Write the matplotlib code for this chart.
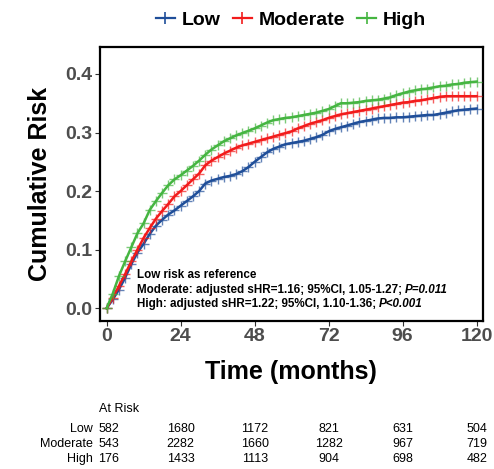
import matplotlib
matplotlib.use("Agg")
import matplotlib.pyplot as plt
from matplotlib.lines import Line2D

plt.rcParams['font.family'] = ['Liberation Sans', 'DejaVu Sans']

months = list(range(0, 121, 2))
low = [0.000, 0.015, 0.032, 0.052, 0.075, 0.095, 0.110, 0.127, 0.141, 0.151,
       0.160, 0.167, 0.175, 0.183, 0.191, 0.200, 0.213, 0.218, 0.221, 0.224,
       0.226, 0.229, 0.234, 0.241, 0.250, 0.258, 0.266, 0.272, 0.276, 0.280,
       0.282, 0.284, 0.286, 0.289, 0.292, 0.296, 0.302, 0.306, 0.309, 0.312,
       0.315, 0.318, 0.320, 0.322, 0.324, 0.325, 0.325, 0.326, 0.326, 0.327,
       0.328, 0.329, 0.330, 0.330, 0.332, 0.334, 0.336, 0.338, 0.339, 0.340, 0.341]
moderate = [0.000, 0.018, 0.038, 0.058, 0.080, 0.100, 0.120, 0.137, 0.153, 0.166,
            0.178, 0.191, 0.200, 0.210, 0.220, 0.230, 0.244, 0.252, 0.258, 0.264,
            0.269, 0.274, 0.278, 0.281, 0.284, 0.287, 0.290, 0.293, 0.296, 0.299,
            0.302, 0.307, 0.311, 0.315, 0.318, 0.321, 0.325, 0.328, 0.331, 0.333,
            0.335, 0.337, 0.339, 0.341, 0.343, 0.345, 0.347, 0.349, 0.351, 0.352,
            0.354, 0.355, 0.357, 0.359, 0.361, 0.362, 0.362, 0.362, 0.362, 0.362, 0.362]
high = [0.000, 0.025, 0.055, 0.080, 0.104, 0.128, 0.145, 0.168, 0.183, 0.197,
        0.210, 0.220, 0.227, 0.235, 0.243, 0.252, 0.262, 0.271, 0.278, 0.285,
        0.290, 0.295, 0.299, 0.303, 0.307, 0.312, 0.317, 0.321, 0.323, 0.325,
        0.326, 0.328, 0.330, 0.332, 0.334, 0.337, 0.340, 0.345, 0.350, 0.350,
        0.351, 0.352, 0.354, 0.355, 0.356, 0.358, 0.360, 0.364, 0.367, 0.370,
        0.372, 0.374, 0.375, 0.377, 0.379, 0.380, 0.382, 0.383, 0.385, 0.386, 0.387]

groups = ["Low", "Moderate", "High"]
colors = ["#1F4E99", "#F21B1B", "#45B541"]
series = [low, moderate, high]

x_ticks = [0, 24, 48, 72, 96, 120]
y_ticks = [0.0, 0.1, 0.2, 0.3, 0.4]
at_risk = {
    "Low": [582, 1680, 1172, 821, 631, 504],
    "Moderate": [543, 2282, 1660, 1282, 967, 719],
    "High": [176, 1433, 1113, 904, 698, 482],
}
annot_lines = [
    ("Low risk as reference", ""),
    ("Moderate: adjusted sHR=1.16; 95%CI, 1.05-1.27; ", "P=0.011"),
    ("High: adjusted sHR=1.22; 95%CI, 1.10-1.36; ", "P<0.001"),
]

W, H = 494, 469
fig = plt.figure(figsize=(W / 100, H / 100), dpi=100)
ax = fig.add_axes([99.5 / W, 1 - 321 / H, (482.5 - 99.5) / W, (321 - 47) / H])

for name, col, vals in zip(groups, colors, series):
    ax.plot(months, vals, color=col, lw=1.8, zorder=3)
    ax.plot(months, vals, ls="none", marker="+", ms=7, mew=1.0, color=col,
            alpha=0.7, zorder=3)

ax.set_xlim(-2.3, 121.9)
ax.set_ylim(-0.0217, 0.446)
ax.set_xticks(x_ticks)
ax.set_yticks(y_ticks)
ax.set_yticklabels([f"{v:.1f}" for v in y_ticks])
ax.tick_params(axis="both", direction="out", length=3.5, width=0.8, color="#333333",
               labelsize=14, labelcolor="#4D4D4D", pad=1.5)
for lab in ax.get_xticklabels() + ax.get_yticklabels():
    lab.set_fontweight("bold")
for sp in ax.spines.values():
    sp.set_linewidth(1.6)
    sp.set_color("black")

ax.set_xlabel("Time (months)", fontsize=18, fontweight="bold", labelpad=11)
ax.set_ylabel("Cumulative Risk", fontsize=18, fontweight="bold", labelpad=10)

handles = [Line2D([0], [0], color=c, lw=1.6, marker="+", ms=8, mew=1.2) for c in colors]
leg = fig.legend(handles, groups, loc="center", bbox_to_anchor=(291 / W, 1 - 20 / H),
                 ncol=3, frameon=False, handlelength=1.0, handletextpad=0.35,
                 columnspacing=0.6, prop={"weight": "bold", "size": 14})

# annotation lines with italic P value
fig.canvas.draw()
renderer = fig.canvas.get_renderer()
base_y = [278.3, 292.7, 307.0]
x0 = 136.7
for (main, ital), yb in zip(annot_lines, base_y):
    t = fig.text(x0 / W, 1 - yb / H, main, fontsize=8.4, fontweight="bold",
                 ha="left", va="baseline", color="black")
    if ital:
        bb = t.get_window_extent(renderer)
        fig.text(bb.x1 / W, 1 - yb / H, ital, fontsize=8.4, fontweight="bold",
                 style="italic", ha="left", va="baseline", color="black")

# at risk table
def xpix(m):
    return 106.7 + m * (476.7 - 106.7) / 120.0

fig.text(99 / W, 1 - 409 / H, "At Risk", fontsize=9, ha="left", va="center")
row_y = [429, 444, 459]
for g, yy in zip(groups, row_y):
    fig.text(93 / W, 1 - yy / H, g, fontsize=9, ha="right", va="center")
    for m, n in zip(x_ticks, at_risk[g]):
        xp = xpix(m) + (2.3 if m == 0 else 0)
        fig.text(xp / W, 1 - yy / H, str(n), fontsize=9, ha="center", va="center")

fig.savefig("out.png", dpi=100)
